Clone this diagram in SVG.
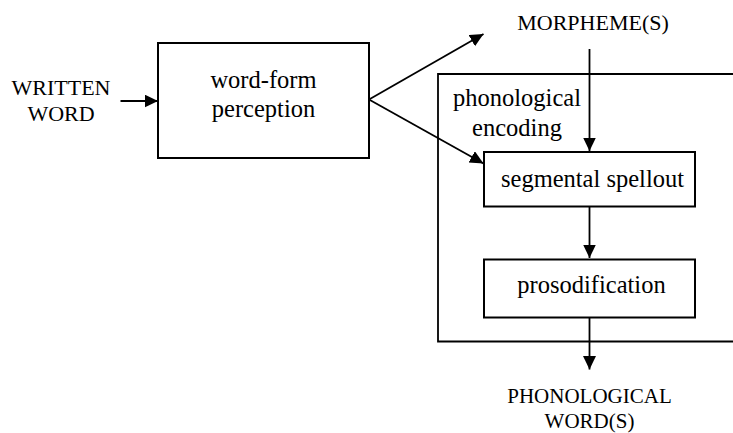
<svg xmlns="http://www.w3.org/2000/svg" width="733" height="433" viewBox="0 0 733 433">
<style>
.box{fill:#fff;stroke:#000;stroke-width:2}
.ln{fill:none;stroke:#000;stroke-width:1.8}
.t{font-family:"Liberation Serif","Times New Roman",serif;fill:#000;text-anchor:middle}
.lab{font-size:22px}
.bt{font-size:24.5px}
</style>
<defs>
<marker id="ah" markerUnits="userSpaceOnUse" markerWidth="15" markerHeight="14" refX="13.5" refY="6.5" orient="auto">
<path d="M0,0 L13.5,6.5 L0,13 z" fill="#000"/>
</marker>
</defs>
<g id="phonological-encoding">
<path class="ln" d="M734,74 H438 V341.5 H734" stroke-width="2"/>
<text class="t bt" x="517" y="106">phonological</text>
<text class="t bt" x="517" y="136">encoding</text>
</g>
<g id="written-word">
<text class="t lab" x="61" y="95">WRITTEN</text>
<text class="t lab" x="61" y="121">WORD</text>
</g>
<g id="word-form-perception">
<rect class="box" x="158" y="43" width="211" height="115"/>
<text class="t bt" x="263.5" y="88">word-form</text>
<text class="t bt" x="263.5" y="117">perception</text>
</g>
<g id="morphemes">
<text class="t lab" x="593" y="30">MORPHEME(S)</text>
</g>
<g id="segmental-spellout">
<rect class="box" x="484" y="152" width="211" height="54.5"/>
<text class="t bt" x="592.5" y="187">segmental spellout</text>
</g>
<g id="prosodification">
<rect class="box" x="484" y="259.5" width="211" height="58"/>
<text class="t bt" x="591.5" y="293">prosodification</text>
</g>
<g id="phonological-words">
<text class="t" font-size="21" x="589.5" y="403">PHONOLOGICAL</text>
<text class="t" font-size="21" x="589.5" y="428">WORD(S)</text>
</g>
<g id="connectors">
<line class="ln" x1="120.5" y1="101" x2="158" y2="101" marker-end="url(#ah)"/>
<line class="ln" x1="369" y1="99.5" x2="483.5" y2="34" marker-end="url(#ah)"/>
<line class="ln" x1="369" y1="99.5" x2="483.5" y2="163.5" marker-end="url(#ah)"/>
<line class="ln" x1="589.5" y1="49" x2="589.5" y2="151" marker-end="url(#ah)"/>
<line class="ln" x1="589.5" y1="206.5" x2="589.5" y2="258" marker-end="url(#ah)"/>
<line class="ln" x1="589.5" y1="317.5" x2="589.5" y2="369.5" marker-end="url(#ah)"/>
</g>
</svg>
